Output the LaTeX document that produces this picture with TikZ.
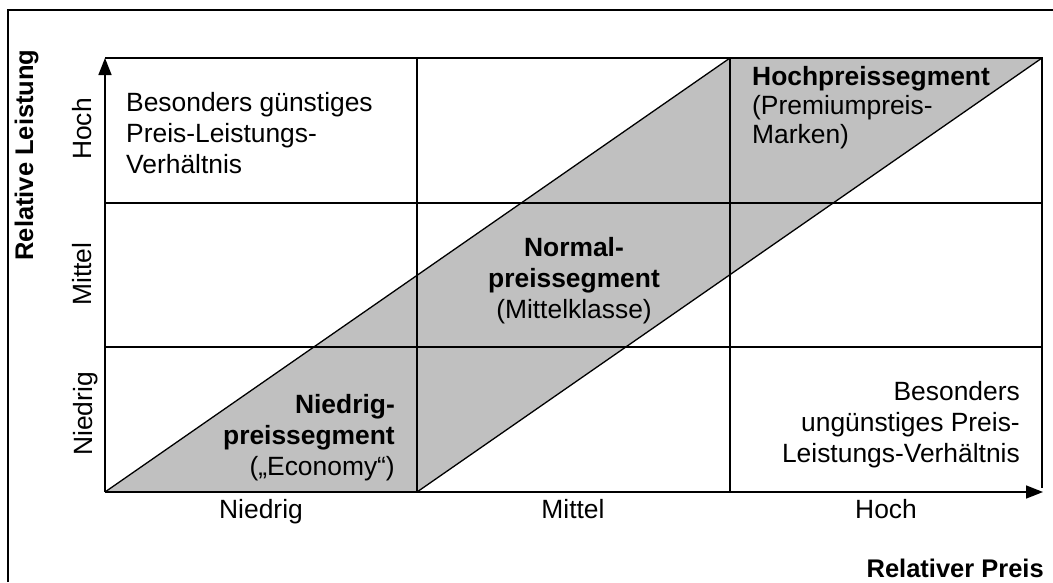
\documentclass[tikz,border=0pt]{standalone}
\usepackage{fontspec}
\setmainfont{Liberation Sans}
\usetikzlibrary{arrows.meta}
\definecolor{bandgray}{RGB}{192,192,192}
\begin{document}
\begin{tikzpicture}[x=1pt,y=-1pt,
  frame/.style={line width=1.5pt},
  gridline/.style={line width=1.4pt},
  diag/.style={line width=1.3pt},
  axis/.style={line width=1.6pt, -{Triangle[length=17pt,width=13pt]}},
  txt/.style={inner sep=0pt, font=\fontsize{26.4}{31}\selectfont},
  boldtxt/.style={inner sep=0pt, font=\fontsize{25.5}{31}\selectfont\bfseries},
]
\useasboundingbox (0,0) rectangle (1053,582);

% outer frame (open to the right and bottom)
\draw[frame] (8,582) -- (8,10) -- (1053,10);

% grid corner points
\coordinate (O)  at (105,492);
\coordinate (TL) at (105,58);
\coordinate (TR) at (1042,58);
\coordinate (BR) at (1043,492);
\coordinate (x1b) at (417,492);
\coordinate (x2b) at (730,492);
\coordinate (x1t) at (417,58);
\coordinate (x2t) at (730,58);
\coordinate (y1l) at (105,203);
\coordinate (y2l) at (105,347);
\coordinate (y1r) at (1042,203);
\coordinate (y2r) at (1042,347);

% shaded segment band
\fill[bandgray] (O) -- (x1b) -- (TR) -- (x2t) -- cycle;
\draw[diag] (O) -- (x2t);
\draw[diag] (x1b) -- (TR);

% grid
\draw[gridline] (TL) -- (TR) -- (1042,488);
\draw[gridline] (x1t) -- (x1b);
\draw[gridline] (x2t) -- (x2b);
\draw[gridline] (y1l) -- (y1r);
\draw[gridline] (y2l) -- (y2r);

% axes
\draw[axis] (O) -- (TL);
\draw[axis] (O) -- (BR);

% cell texts (base anchor = baseline of the last line)
\node[txt, anchor=base west, align=left] (good) at (126,173)
  {Besonders günstiges\\Preis-Leistungs-\\Verhältnis};
\node[txt, anchor=base west, align=left] (high) at (752,143)
  {\textbf{Hochpreissegment}\\[-2pt](Premiumpreis-\\[-2pt]Marken)};
\node[txt, anchor=base, align=center] (normal) at (574,318)
  {\textbf{Normal-}\\\textbf{preissegment}\\(Mittelklasse)};
\node[txt, anchor=base east, align=right] (low) at (395,475)
  {\textbf{Niedrig-}\\\textbf{preissegment}\\(„Economy“)};
\node[txt, anchor=base east, align=right] (bad) at (1020,462)
  {Besonders\\ungünstiges Preis-\\Leistungs-Verhältnis};

% axis scale labels
\node[txt, anchor=base] (pl) at (261,518) {Niedrig};
\node[txt, anchor=base] (pm) at (573,518) {Mittel};
\node[txt, anchor=base] (ph) at (886,518) {Hoch};
\node[txt, anchor=base, rotate=90] (lh) at (91,129) {Hoch};
\node[txt, anchor=base, rotate=90] (lm) at (91,274) {Mittel};
\node[txt, anchor=base, rotate=90] (ll) at (92,414) {Niedrig};

% axis titles
\node[boldtxt, anchor=base, rotate=90] (ylab) at (33,155) {Relative Leistung};
\node[boldtxt, anchor=base east] (xlab) at (1044,577) {Relativer Preis};
\end{tikzpicture}
\end{document}
